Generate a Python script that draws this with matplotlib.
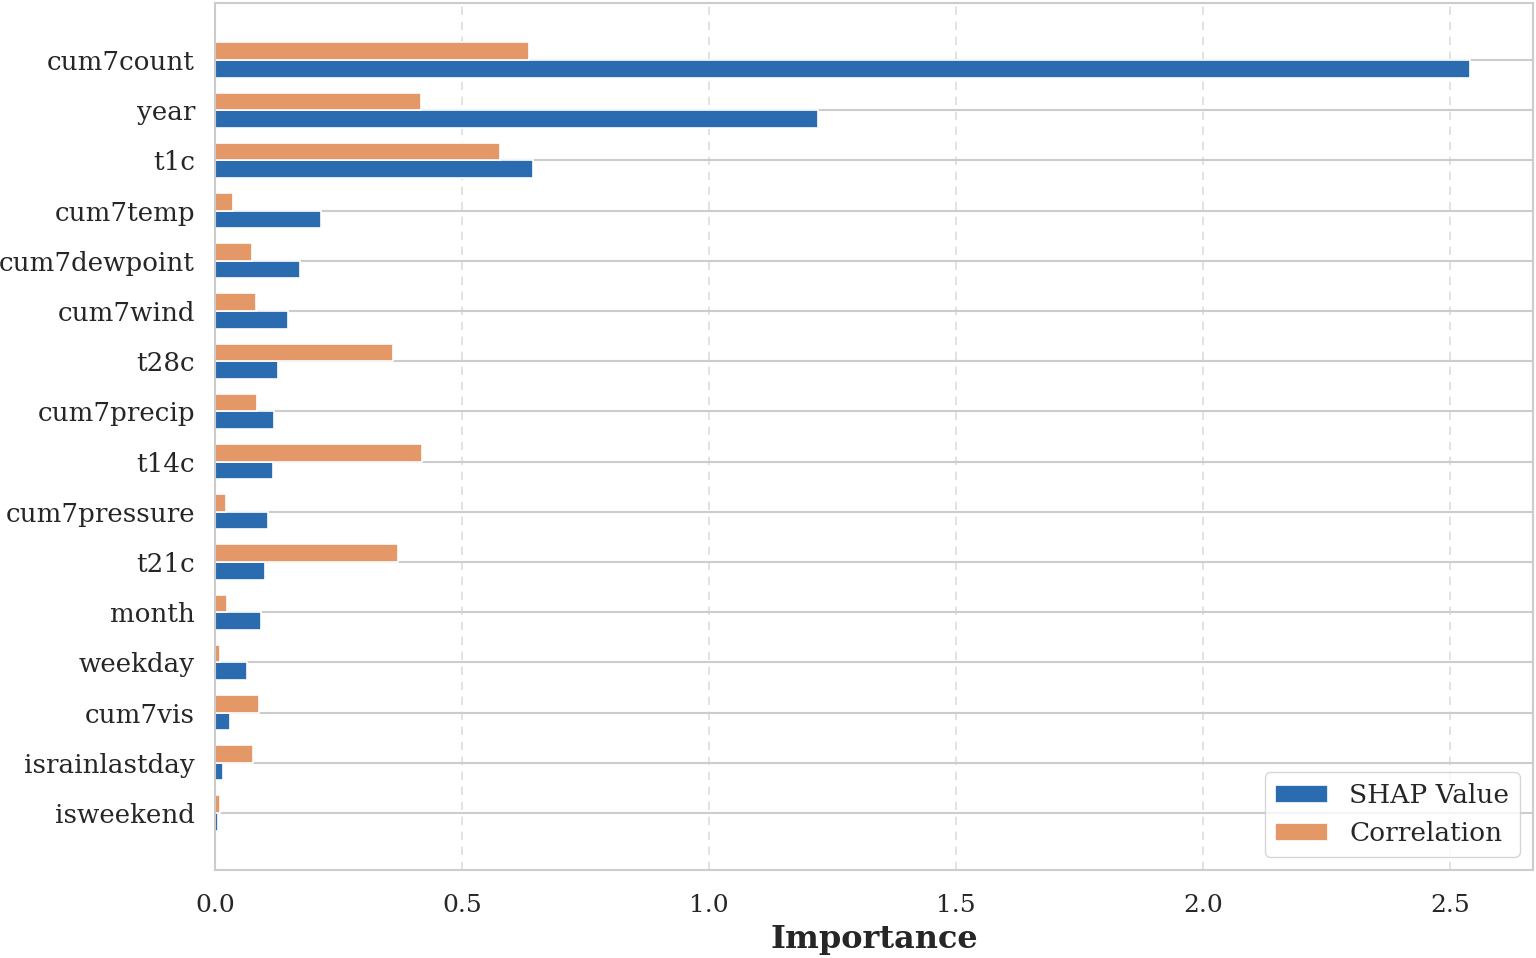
import numpy as np
import matplotlib
matplotlib.use("Agg")
import matplotlib.pyplot as plt
import seaborn as sns

features = ["cum7count", "year", "t1c", "cum7temp", "cum7dewpoint", "cum7wind",
            "t28c", "cum7precip", "t14c", "cum7pressure", "t21c", "month",
            "weekday", "cum7vis", "israinlastday", "isweekend"]
shap_vals = [2.541, 1.220, 0.644, 0.215, 0.172, 0.147, 0.128, 0.119, 0.118,
             0.107, 0.101, 0.093, 0.064, 0.030, 0.017, 0.005]
corr_vals = [0.636, 0.417, 0.577, 0.036, 0.074, 0.083, 0.360, 0.084, 0.418,
             0.022, 0.371, 0.024, 0.0095, 0.088, 0.077, 0.0095]

sns.set_style("whitegrid")
plt.rcParams['font.family'] = ['DejaVu Serif']

fig = plt.figure(figsize=(15.36, 9.58), dpi=100)
ax = fig.add_axes([0.1400, 0.0919, 0.8580, 0.9050])

y = np.arange(len(features))
h = 0.35
ax.barh(y + h / 2, shap_vals, height=h, color="#2b6cb0", edgecolor="white",
        linewidth=1.2, label="SHAP Value", zorder=2)
ax.barh(y - h / 2, corr_vals, height=h, color="#e49868", edgecolor="white",
        linewidth=1.2, label="Correlation", zorder=2)

ax.set_yticks(y)
ax.set_yticklabels(features, fontsize=18.8)
ax.invert_yaxis()
ax.tick_params(axis='y', pad=11)
ax.tick_params(axis='x', labelsize=18, pad=14)
ax.set_xlabel("Importance", fontsize=23, fontweight="bold", labelpad=4.5)

ax.grid(axis='y', color="#cccccc", linewidth=1.5, linestyle='-')
ax.grid(axis='x', color="#dddddd", linewidth=1.2, linestyle=(0, (5, 4)))
ax.set_axisbelow(True)
for s in ax.spines.values():
    s.set_color("#cccccc")
    s.set_linewidth(1.5)

ax.legend(loc="lower right", fontsize=19, frameon=True)

fig.savefig("out.png", dpi=100)
